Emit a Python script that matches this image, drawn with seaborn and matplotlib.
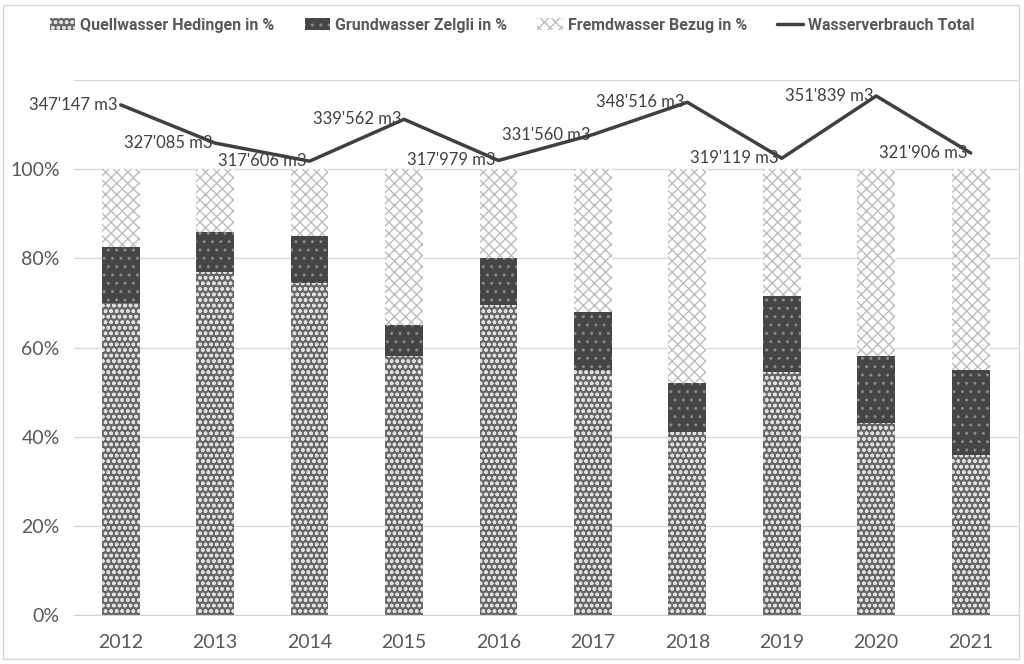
import numpy as np
import pandas as pd
import seaborn as sns
import matplotlib.pyplot as plt
from matplotlib.patches import Patch, Rectangle
from matplotlib.lines import Line2D
from matplotlib import font_manager

years = ['2012', '2013', '2014', '2015', '2016', '2017', '2018', '2019', '2020', '2021']
quellwasser = [70, 77, 74.5, 58, 69.5, 55, 41, 54.5, 43, 36]
grundwasser = [12.5, 9, 10.5, 7, 10.5, 13, 11, 17, 15, 19]
fremdwasser = [17.5, 14, 15, 35, 20, 32, 48, 28.5, 42, 45]
verbrauch = [347147, 327085, 317606, 339562, 317979, 331560, 348516, 319119, 351839, 321906]

df = pd.DataFrame({'Jahr': years, 'Quell': quellwasser,
                   'Grund': grundwasser, 'Fremd': fremdwasser})
df['bottom_fremd'] = df['Quell'] + df['Grund']

installed = {f.name for f in font_manager.fontManager.ttflist}
def pick(*names):
    for n in names:
        if n in installed:
            return n
    return 'DejaVu Sans'

label_font = pick('Lato', 'Open Sans', 'Noto Sans')
legend_font = pick('Roboto', 'Liberation Sans', 'DejaVu Sans')
txt = '#595959'

sns.set_style('white')
plt.rcParams['font.family'] = [label_font, 'DejaVu Sans']
plt.rcParams['hatch.linewidth'] = 1.0

fig = plt.figure(figsize=(10.24, 6.64), dpi=100)
ax = fig.add_axes([0.0718, 0.0738, 0.9222, 0.8057])

# stacked bars
styles = [('Quell', None, '#686868', '#e0e0e0', 'ooo'),
          ('Grund', 'Quell', '#454545', '#8a8a8a', '..'),
          ('Fremd', 'bottom_fremd', 'white', '#bdbdbd', 'xxx')]
for col, bottom, face, hatchcol, hatch in styles:
    b = df[bottom] if bottom else 0
    sns.barplot(data=df, x='Jahr', y=col, bottom=b, color=face, saturation=1,
                width=0.4, edgecolor=hatchcol, linewidth=0, hatch=hatch, ax=ax)

ax.set_xlim(-0.5, len(years) - 0.5)
ax.set_ylim(0, 120)
ax.set_yticks(range(0, 121, 20))
ax.set_yticklabels([f'{v}%' for v in range(0, 101, 20)] + [''])
ax.yaxis.grid(True, color='#d9d9d9', lw=1)
ax.set_axisbelow(True)
ax.set_xlabel('')
ax.set_ylabel('')
for s in ['top', 'right', 'left']:
    ax.spines[s].set_visible(False)
ax.spines['bottom'].set_color('#d0d0d0')
ax.tick_params(axis='both', labelsize=14, labelcolor=txt, length=0)
ax.tick_params(axis='x', pad=14)
ax.tick_params(axis='y', pad=10)
ax.set_xticks(np.arange(-0.5, len(years)), minor=True)
ax.tick_params(axis='x', which='minor', length=6, color='#d0d0d0')

# total consumption line
ax2 = ax.twinx()
pos = np.arange(len(years))
sns.lineplot(x=pos, y=verbrauch, ax=ax2, color='#404040', lw=2.5)
ax2.set_ylim(79400, 360200)
ax2.set_yticks([])
for s in ax2.spines.values():
    s.set_visible(False)
for i, v in enumerate(verbrauch):
    ax2.annotate(f"{v:,}".replace(',', "'") + ' m3', (i, v), xytext=(-2, 0),
                 textcoords='offset points', ha='right', va='center',
                 fontsize=12, color='#404040')

handles = [Patch(facecolor='#686868', edgecolor='#e0e0e0', hatch='ooo', lw=0),
           Patch(facecolor='#454545', edgecolor='#8a8a8a', hatch='..', lw=0),
           Patch(facecolor='white', edgecolor='#bdbdbd', hatch='xxx', lw=0),
           Line2D([], [], color='#404040', lw=2.5)]
labels = ['Quellwasser Hedingen in %', 'Grundwasser Zelgli in %',
          'Fremdwasser Bezug in %', 'Wasserverbrauch Total']
leg = fig.legend(handles, labels, loc='upper center', bbox_to_anchor=(0.5, 0.995),
                 ncol=4, frameon=False, handlelength=1.6, handleheight=0.8,
                 columnspacing=1.9, handletextpad=0.3,
                 prop={'family': legend_font, 'weight': 'bold', 'size': 11.5})
for t in leg.get_texts():
    t.set_color(txt)

fig.patches.append(Rectangle((0.003, 0.008), 0.992, 0.984, transform=fig.transFigure,
                             fill=False, edgecolor='#d6d6d6', lw=1))

fig.savefig('out.png', dpi=100)
